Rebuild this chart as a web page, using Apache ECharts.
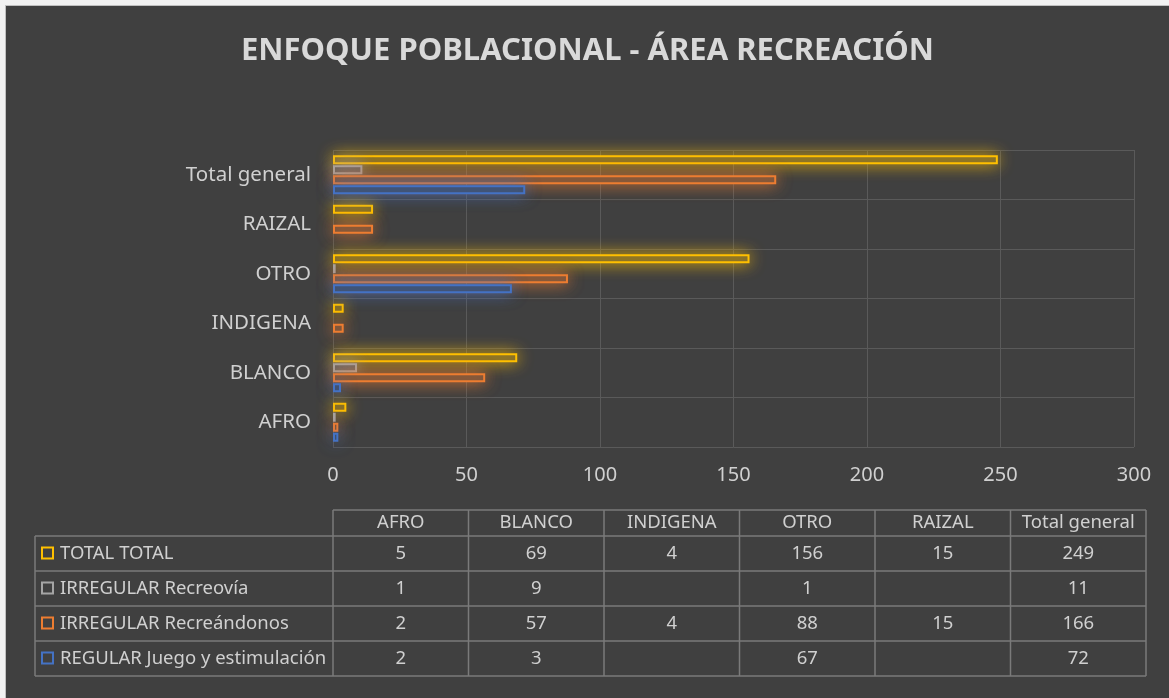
<!DOCTYPE html>
<html>
<head>
<meta charset="utf-8">
<script src="https://cdn.jsdelivr.net/npm/echarts@6/dist/echarts.min.js"></script>
<style>
  html, body { margin: 0; padding: 0; background: #f2f2f2; }
  #main { position: absolute; left: 5px; top: 5px; width: 1163px; height: 692px;
          border-left: 1px solid #c0c0c0; border-top: 1px solid #c0c0c0; }
</style>
</head>
<body>
<div id="main"></div>
<script>
// categorías (de abajo hacia arriba en el gráfico)
var categories = ['AFRO', 'BLANCO', 'INDIGENA', 'OTRO', 'RAIZAL', 'Total general'];

var seriesNames = ['TOTAL TOTAL', 'IRREGULAR Recreovía', 'IRREGULAR Recreándonos', 'REGULAR Juego y estimulación'];
var seriesColors = ['#FFC000', '#A5A5A5', '#ED7D31', '#4472C4'];

var totalTotal = [5, 69, 4, 156, 15, 249];
var recreovia = [1, 9, null, 1, null, 11];
var recreandonos = [2, 57, 4, 88, 15, 166];
var regular = [2, 3, null, 67, null, 72];

var xTicks = [0, 50, 100, 150, 200, 250, 300];

var allValues = [totalTotal, recreovia, recreandonos, regular];

var textColor = '#d0d0d0';
var lineColor = '#5a5a5a';
var bgColor = '#404040';
var fontFamily = '"Noto Sans", sans-serif';

function hexA(hex, a) {
  var n = parseInt(hex.slice(1), 16);
  return 'rgba(' + (n >> 16) + ',' + ((n >> 8) & 255) + ',' + (n & 255) + ',' + a + ')';
}
// mezcla opaca del color sobre el fondo (para que el brillo no se atenúe)
function blend(hex, a) {
  var n = parseInt(hex.slice(1), 16), b = parseInt(bgColor.slice(1), 16);
  var ch = function (s) { return Math.round(((b >> s) & 255) * (1 - a) + ((n >> s) & 255) * a); };
  return 'rgb(' + ch(16) + ',' + ch(8) + ',' + ch(0) + ')';
}

var myChart = echarts.init(document.getElementById('main'));

// tabla de datos debajo del gráfico
var tbl = { labelLeft: 29, left: 327, right: 1140, top: 504, headH: 26, rowH: 35 };
var colW = (tbl.right - tbl.left) / categories.length;
var tblBottom = tbl.top + tbl.headH + tbl.rowH * seriesNames.length;
var tblLine = { stroke: '#7a7a7a', lineWidth: 1.5 };
var tblFont = '18.5px ' + fontFamily;
var graphics = [];

// líneas horizontales
graphics.push({ type: 'line', shape: { x1: tbl.left, y1: tbl.top, x2: tbl.right, y2: tbl.top }, style: tblLine });
for (var r = 0; r <= seriesNames.length; r++) {
  var yy = tbl.top + tbl.headH + r * tbl.rowH;
  graphics.push({ type: 'line', shape: { x1: tbl.labelLeft, y1: yy, x2: tbl.right, y2: yy }, style: tblLine });
}
// líneas verticales
graphics.push({ type: 'line', shape: { x1: tbl.labelLeft, y1: tbl.top + tbl.headH, x2: tbl.labelLeft, y2: tblBottom }, style: tblLine });
for (var c = 0; c <= categories.length; c++) {
  var xx = tbl.left + c * colW;
  graphics.push({ type: 'line', shape: { x1: xx, y1: tbl.top, x2: xx, y2: tblBottom }, style: tblLine });
}
// encabezados
categories.forEach(function (cat, i) {
  graphics.push({ type: 'text', x: tbl.left + (i + 0.5) * colW, y: tbl.top + tbl.headH / 2,
    style: { text: cat, fill: textColor, font: tblFont, align: 'center', verticalAlign: 'middle' } });
});
// filas
seriesNames.forEach(function (name, r) {
  var cy = tbl.top + tbl.headH + (r + 0.5) * tbl.rowH;
  graphics.push({ type: 'rect', shape: { x: tbl.labelLeft + 7, y: cy - 6, width: 11, height: 11 },
    style: { fill: 'none', stroke: seriesColors[r], lineWidth: 2 } });
  graphics.push({ type: 'text', x: tbl.labelLeft + 25, y: cy,
    style: { text: name, fill: textColor, font: tblFont, verticalAlign: 'middle' } });
  allValues[r].forEach(function (v, i) {
    if (v === null) return;
    graphics.push({ type: 'text', x: tbl.left + (i + 0.5) * colW, y: cy,
      style: { text: String(v), fill: textColor, font: tblFont, align: 'center', verticalAlign: 'middle' } });
  });
});

var option = {
  backgroundColor: bgColor,
  title: {
    text: 'ENFOQUE POBLACIONAL - ÁREA RECREACIÓN',
    left: 'center',
    top: 25,
    textStyle: { color: '#d9d9d9', fontSize: 31, fontWeight: 'bold', fontFamily: fontFamily }
  },
  grid: { left: 327, right: 35, top: 144, bottom: 251 },
  xAxis: {
    type: 'value',
    min: xTicks[0],
    max: xTicks[xTicks.length - 1],
    interval: xTicks[1] - xTicks[0],
    axisLine: { show: false },
    axisTick: { show: false },
    axisLabel: { color: textColor, fontSize: 20, fontFamily: fontFamily, margin: 18 },
    splitLine: { lineStyle: { color: lineColor, width: 1 } }
  },
  yAxis: {
    type: 'category',
    data: categories,
    axisLine: { show: false },
    axisTick: { show: false },
    axisLabel: { color: textColor, fontSize: 20.5, fontFamily: fontFamily, margin: 22 },
    splitLine: { show: true, lineStyle: { color: lineColor, width: 1 } }
  },
  series: allValues.map(function (vals, i) {
    return {
      name: seriesNames[i],
      type: 'bar',
      data: vals,
      barWidth: 9,
      barGap: '12%',
      itemStyle: {
        color: blend(seriesColors[i], 0.3),
        borderColor: seriesColors[i],
        borderWidth: 2,
        shadowBlur: 16,
        shadowColor: hexA(seriesColors[i], 0.85)
      }
    };
  }),
  graphic: graphics
};

myChart.setOption(option);
</script>
</body>
</html>
